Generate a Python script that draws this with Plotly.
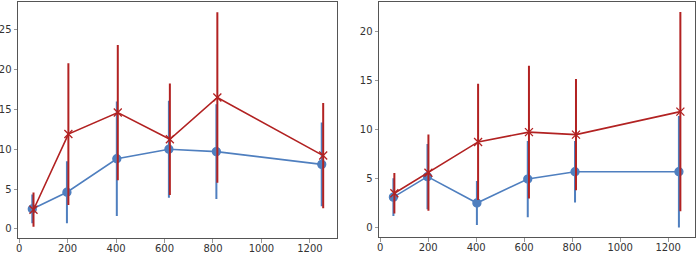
import plotly.graph_objects as go

# Left panel
left_blue_x = [54, 197, 403, 618, 814, 1249]
left_blue_y = [2.5, 4.6, 8.8, 10.0, 9.7, 8.1]
left_blue_err = [1.8, 3.9, 7.2, 6.1, 5.95, 5.25]
left_red_x = [59, 203, 407, 622, 818, 1255]
left_red_y = [2.4, 11.9, 14.6, 11.25, 16.5, 9.2]
left_red_err = [2.15, 8.9, 8.5, 7.0, 10.7, 6.6]

# Right panel
right_blue_x = [55, 197, 403, 615, 812, 1245]
right_blue_y = [3.1, 5.2, 2.5, 4.95, 5.7, 5.7]
right_blue_err = [1.93, 3.35, 2.25, 3.9, 3.15, 5.7]
right_red_x = [59, 201, 408, 620, 816, 1251]
right_red_y = [3.5, 5.6, 8.75, 9.75, 9.5, 11.85]
right_red_err = [2.07, 3.9, 5.95, 6.8, 5.7, 10.2]

x_ticks = [0, 200, 400, 600, 800, 1000, 1200]
left_y_ticks = [0, 5, 10, 15, 20, 25]
right_y_ticks = [0, 5, 10, 15, 20]

BLUE = "#4f7fbf"
RED = "#b22222"

fig = go.Figure()

def add_series(x, y, err, color, symbol, xa, ya, size):
    fig.add_trace(go.Scatter(
        x=x, y=y, xaxis=xa, yaxis=ya, mode="lines+markers",
        line=dict(color=color, width=1.6),
        marker=dict(color=color, symbol=symbol, size=size,
                    line=dict(color=color, width=1.3)),
        error_y=dict(type="data", array=err, visible=True, color=color,
                     thickness=2, width=0),
        showlegend=False, hoverinfo="skip"))

add_series(left_blue_x, left_blue_y, left_blue_err, BLUE, "circle", "x", "y", 8)
add_series(left_red_x, left_red_y, left_red_err, RED, "x-thin", "x", "y", 8)
add_series(right_blue_x, right_blue_y, right_blue_err, BLUE, "circle", "x2", "y2", 8)
add_series(right_red_x, right_red_y, right_red_err, RED, "x-thin", "x2", "y2", 8)

axis_common = dict(showgrid=False, zeroline=False, showline=True, mirror=True,
                   linecolor="#555555", linewidth=1, ticks="outside",
                   ticklen=3.5, tickcolor="#999999", tickwidth=0.8,
                   tickfont=dict(family="DejaVu Sans", size=10, color="#333333"),
                   automargin=False)

fig.update_layout(
    width=698, height=253,
    margin=dict(l=0, r=0, t=0, b=0),
    paper_bgcolor="white", plot_bgcolor="white",
    xaxis=dict(domain=[18/698, 337/698], range=[-5, 1312],
               tickvals=x_ticks, anchor="y", ticklabelstandoff=-3, **axis_common),
    yaxis=dict(domain=[1 - 238/253, 1 - 1.5/253], range=[-1.15, 28.55],
               tickvals=left_y_ticks, anchor="x", **axis_common),
    xaxis2=dict(domain=[379/698, 695/698], range=[-5, 1312],
                tickvals=x_ticks, anchor="y2", ticklabelstandoff=-3, **axis_common),
    yaxis2=dict(domain=[1 - 237/253, 1 - 1.7/253], range=[-0.98, 23.1],
                tickvals=right_y_ticks, anchor="x2", **axis_common),
)

fig.write_html("out.html", config={"displayModeBar": False})

# remove default page margin so the figure sits at the window's corner
with open("out.html", "r", encoding="utf-8") as f:
    html = f.read()
html = html.replace("<head>", "<head><style>html,body{margin:0;padding:0;overflow:hidden}</style>", 1)
with open("out.html", "w", encoding="utf-8") as f:
    f.write(html)
